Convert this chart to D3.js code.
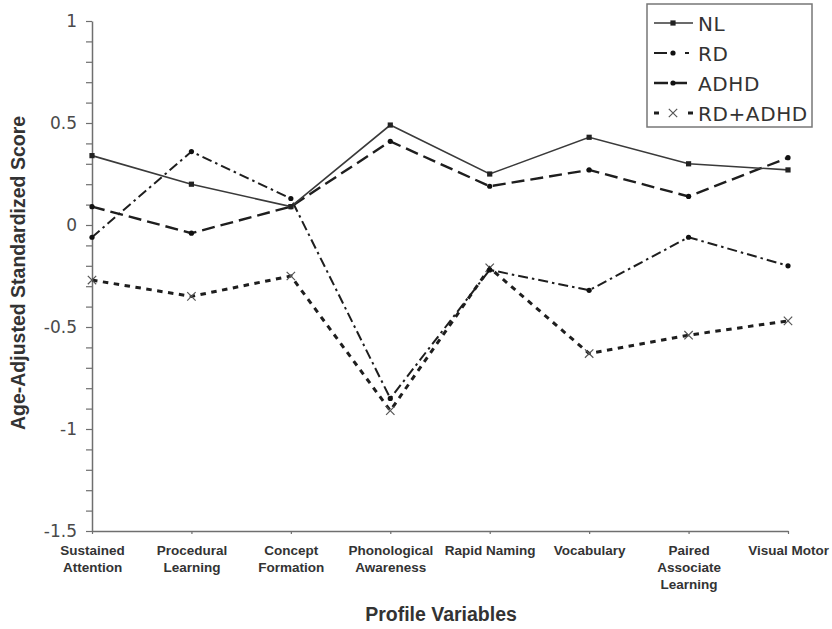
<!DOCTYPE html>
<html>
<head>
<meta charset="utf-8">
<script src="https://cdn.jsdelivr.net/npm/d3@7"></script>
<style>
  html, body { margin: 0; padding: 0; background: #fff; }
  svg { display: block; }
</style>
</head>
<body>
<svg id="chart" width="832" height="629"></svg>
<script>
// Profile variables (x categories); "\n" marks a line break in the axis label
const categories = [
  "Sustained\nAttention",
  "Procedural\nLearning",
  "Concept\nFormation",
  "Phonological\nAwareness",
  "Rapid Naming",
  "Vocabulary",
  "Paired\nAssociate\nLearning",
  "Visual Motor"
];

// Age-adjusted standardized scores per group
const nlScores     = [0.34, 0.20, 0.09, 0.49, 0.25, 0.43, 0.30, 0.27];
const rdScores     = [-0.06, 0.36, 0.13, -0.85, -0.22, -0.32, -0.06, -0.20];
const adhdScores   = [0.09, -0.04, 0.09, 0.41, 0.19, 0.27, 0.14, 0.33];
const rdAdhdScores = [-0.27, -0.35, -0.25, -0.91, -0.21, -0.63, -0.54, -0.47];

const groupNames = ["NL", "RD", "ADHD", "RD+ADHD"];

// Labelled y ticks (minor ticks every 0.1 in between)
const yTickValues = [1, 0.5, 0, -0.5, -1, -1.5];
const yTickLabels = ["1", "0.5", "0", "-0.5", "-1", "-1.5"];

const yTitle = "Age-Adjusted Standardized Score";
const xTitle = "Profile Variables";

const svg = d3.select("#chart");

const x = d3.scalePoint().domain(categories).range([92, 788]).padding(0);
const y = d3.scaleLinear().domain([-1.5, 1]).range([531, 21]);

const axisColor = "#6f6f6f";

// ---- Y axis with minor ticks ----
const allYTicks = d3.range(-15, 11).map(i => Math.round(i) / 10);
const yAxis = d3.axisLeft(y)
  .tickValues(allYTicks)
  .tickSize(6)
  .tickSizeOuter(0)
  .tickPadding(9)
  .tickFormat(d => {
    const i = yTickValues.findIndex(v => Math.abs(v - d) < 1e-9);
    return i >= 0 ? yTickLabels[i] : "";
  });

const gy = svg.append("g")
  .attr("transform", "translate(92,0)")
  .call(yAxis);
gy.select(".domain").attr("stroke", axisColor).attr("stroke-width", 1.5);
gy.selectAll(".tick line").attr("stroke", axisColor).attr("stroke-width", 1.2);
gy.selectAll(".tick text")
  .attr("fill", "#4a4a4a")
  .style("font-family", "'DejaVu Sans', sans-serif")
  .style("font-size", "17px");

// ---- X axis ----
const xAxis = d3.axisBottom(x).tickSize(3).tickSizeOuter(0).tickFormat("");
const gx = svg.append("g")
  .attr("transform", "translate(0,531)")
  .call(xAxis);
gx.select(".domain").attr("stroke", axisColor).attr("stroke-width", 1.5);
gx.selectAll(".tick line").attr("stroke", axisColor).attr("stroke-width", 1.2);

// Multi-line category labels
gx.selectAll(".tick").each(function(d) {
  const t = d3.select(this).append("text")
    .attr("text-anchor", "middle")
    .attr("fill", "#333")
    .style("font-family", "'Liberation Sans', Arial, sans-serif")
    .style("font-weight", "bold")
    .style("font-size", "13.5px");
  d.split("\n").forEach((line, i) => {
    t.append("tspan").attr("x", 0).attr("y", 24 + i * 17).text(line);
  });
});

// ---- Axis titles ----
svg.append("text")
  .attr("transform", `translate(25,${273}) rotate(-90)`)
  .attr("text-anchor", "middle")
  .attr("fill", "#333")
  .style("font-family", "'Liberation Sans', Arial, sans-serif")
  .style("font-weight", "bold")
  .style("font-size", "19.5px")
  .text(yTitle);

svg.append("text")
  .attr("x", 441)
  .attr("y", 621)
  .attr("text-anchor", "middle")
  .attr("fill", "#333")
  .style("font-family", "'Liberation Sans', Arial, sans-serif")
  .style("font-weight", "bold")
  .style("font-size", "19.5px")
  .text(xTitle);

// ---- Series ----
const series = [
  { name: groupNames[0], values: nlScores,     dash: null,         width: 1.6, color: "#3a3a3a", marker: "square" },
  { name: groupNames[1], values: rdScores,     dash: "10,4,2.5,4", width: 2.0, color: "#1e1e1e", marker: "dot" },
  { name: groupNames[2], values: adhdScores,   dash: "13,6",       width: 2.4, color: "#1e1e1e", marker: "dot" },
  { name: groupNames[3], values: rdAdhdScores, dash: "5.5,5.5",    width: 3.0, color: "#1e1e1e", marker: "cross" }
];

const line = d3.line()
  .x((v, i) => x(categories[i]))
  .y(v => y(v));

function drawMarker(g, kind, cx, cy) {
  if (kind === "square") {
    g.append("rect")
      .attr("x", cx - 2.6).attr("y", cy - 2.6)
      .attr("width", 5.2).attr("height", 5.2)
      .attr("fill", "#222");
  } else if (kind === "dot") {
    g.append("circle")
      .attr("cx", cx).attr("cy", cy).attr("r", 2.6)
      .attr("fill", "#111");
  } else {
    const s = 4.2;
    g.append("path")
      .attr("d", `M${cx - s},${cy - s}L${cx + s},${cy + s}M${cx - s},${cy + s}L${cx + s},${cy - s}`)
      .attr("stroke", "#555")
      .attr("stroke-width", 1.2)
      .attr("fill", "none");
  }
}

const plot = svg.append("g");
// draw bottom series first so NL sits on top
[...series].reverse().forEach(s => {
  const g = plot.append("g");
  g.append("path")
    .datum(s.values)
    .attr("d", line)
    .attr("fill", "none")
    .attr("stroke", s.color)
    .attr("stroke-width", s.width)
    .attr("stroke-dasharray", s.dash);
  s.values.forEach((v, i) => drawMarker(g, s.marker, x(categories[i]), y(v)));
});

// ---- Legend ----
const legend = svg.append("g");
legend.append("rect")
  .attr("x", 647).attr("y", 4)
  .attr("width", 165).attr("height", 123)
  .attr("fill", "#fff")
  .attr("stroke", "#777")
  .attr("stroke-width", 1.5);

const legendDash = [null, "13,18,4", "14,7,12", "5,29,5"];
series.forEach((s, i) => {
  const cy = 23 + i * 30;
  legend.append("line")
    .attr("x1", 654).attr("x2", 693)
    .attr("y1", cy).attr("y2", cy)
    .attr("stroke", s.color)
    .attr("stroke-width", s.width)
    .attr("stroke-dasharray", legendDash[i]);
  drawMarker(legend, s.marker, 673, cy);
  legend.append("text")
    .attr("x", 698).attr("y", cy + 8)
    .attr("fill", "#333")
    .style("font-family", "'DejaVu Sans', sans-serif")
    .style("font-size", "20px")
    .style("letter-spacing", "0.6px")
    .text(s.name);
});
</script>
</body>
</html>
